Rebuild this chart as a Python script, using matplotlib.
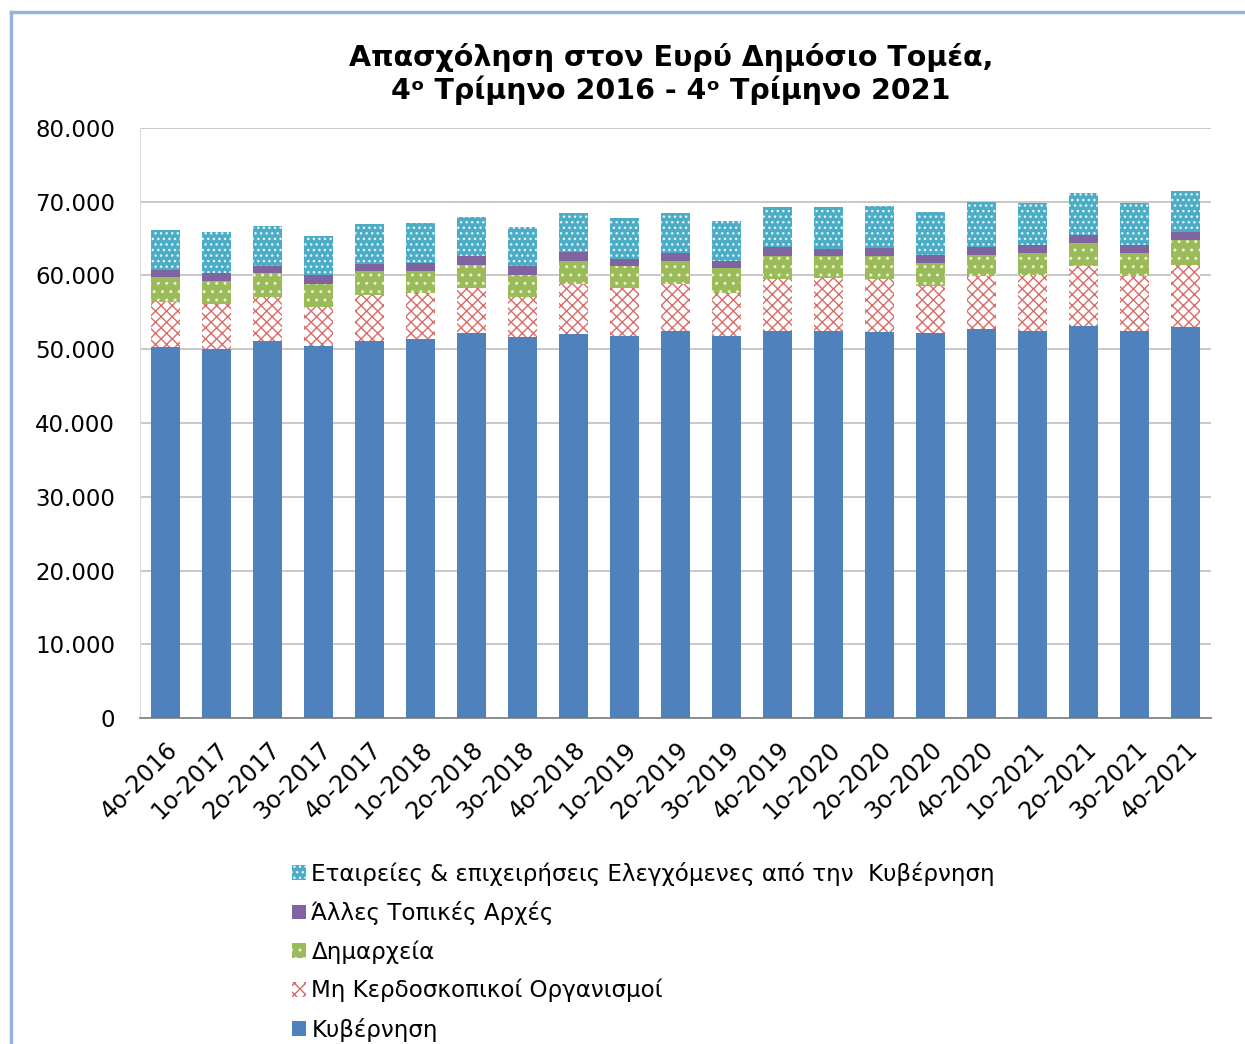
import matplotlib.pyplot as plt
import numpy as np
from matplotlib.lines import Line2D
from matplotlib.ticker import FuncFormatter

plt.rcParams['font.family'] = ['DejaVu Sans']
plt.rcParams['hatch.linewidth'] = 1.0

# quarters
quarters = ['4ο-2016', '1ο-2017', '2ο-2017', '3ο-2017', '4ο-2017',
            '1ο-2018', '2ο-2018', '3ο-2018', '4ο-2018',
            '1ο-2019', '2ο-2019', '3ο-2019', '4ο-2019',
            '1ο-2020', '2ο-2020', '3ο-2020', '4ο-2020',
            '1ο-2021', '2ο-2021', '3ο-2021', '4ο-2021']

# employment
kyvernisi = [50350, 50000, 51160, 50480, 51160, 51340, 52160, 51700, 52030,
             51840, 52470, 51840, 52470, 52470, 52300, 52160, 52700,
             52520, 53200, 52520, 53060]
mi_kerdoskopikoi = [6100, 6080, 5970, 5300, 6200, 6330, 6190, 5340, 6820,
                    6510, 6380, 5830, 7010, 7230, 7230, 6460, 7230,
                    7550, 8090, 7450, 8360]
dimarxeia = [3300, 3170, 3170, 3120, 3250, 2940, 3120, 3030, 3120,
             2940, 3120, 3300, 3160, 2940, 3110, 3030, 2890,
             2940, 3080, 3040, 3460]
alles_topikes = [1000, 1130, 990, 1140, 950, 1130, 1130, 1220, 1180,
                 950, 1130, 960, 1180, 950, 1130, 1130, 1000,
                 1130, 1120, 1130, 980]
etaireies = [5420, 5480, 5460, 5330, 5420, 5380, 5370, 5290, 5280,
             5520, 5330, 5500, 5420, 5650, 5700, 5790, 6100,
             5650, 5650, 5650, 5640]

labels = ['Κυβέρνηση', 'Μη Κερδοσκοπικοί Οργανισμοί', 'Δημαρχεία',
          'Άλλες Τοπικές Αρχές',
          'Εταιρείες & επιχειρήσεις Ελεγχόμενες από την  Κυβέρνηση']

fig = plt.figure(figsize=(12.45, 10.44), dpi=100)
ax = fig.add_axes([140 / 1245, 1 - 718 / 1044, 1071 / 1245, 590 / 1044])

x = np.arange(len(quarters))
w = 0.57
bottom = np.zeros(len(quarters))

series = [kyvernisi, mi_kerdoskopikoi, dimarxeia, alles_topikes, etaireies]
styles = [
    dict(color='#4F81BD', edgecolor='#4F81BD', hatch=None),
    dict(color='white', edgecolor='#D96B69', hatch='xxx'),
    dict(color='#9BBB59', edgecolor='#E8F0DA', hatch='..'),
    dict(color='#8064A2', edgecolor='#8064A2', hatch=None),
    dict(color='#4BACC6', edgecolor='#E4F3F7', hatch='...'),
]
handles = []
for vals, st, lab in zip(series, styles, labels):
    vals = np.array(vals, dtype=float)
    b = ax.bar(x, vals, w, bottom=bottom, color=st['color'],
               edgecolor=st['edgecolor'], hatch=st['hatch'], linewidth=0,
               label=lab, zorder=3)
    handles.append(b)
    bottom += vals

ax.set_xlim(-0.5, len(quarters) - 0.5)
ax.set_ylim(0, 80000)
ax.set_yticks(np.arange(0, 80001, 10000))
ax.yaxis.set_major_formatter(FuncFormatter(lambda v, p: f'{int(v):,}'.replace(',', '.')))
ax.grid(axis='y', color='#BFBFBF', linewidth=1.2, zorder=0)
ax.tick_params(axis='y', length=0, labelsize=16.5, pad=18)
ax.tick_params(axis='x', length=0, labelsize=17, pad=14)
ax.set_xticks(x)
ax.set_xticklabels(quarters, rotation=45, ha='right', rotation_mode='anchor')
for s in ['top', 'right']:
    ax.spines[s].set_visible(False)
ax.spines['left'].set_color('#D9D9D9')
ax.spines['bottom'].set_color('#868686')
ax.spines['bottom'].set_linewidth(1.3)

fig.text(0.539, 1 - 57 / 1044, 'Απασχόληση στον Ευρύ Δημόσιο Τομέα,',
         ha='center', va='center', fontsize=20.5, fontweight='bold')
fig.text(0.539, 1 - 90 / 1044, '4ᵒ Τρίμηνο 2016 - 4ᵒ Τρίμηνο 2021',
         ha='center', va='center', fontsize=20.5, fontweight='bold')

fig.legend(handles[::-1], labels[::-1], loc='upper left',
           bbox_to_anchor=(278 / 1245, 1 - 848 / 1044), frameon=False,
           fontsize=16.6, handlelength=0.6, handleheight=0.6,
           handletextpad=0.25, labelspacing=0.66, borderaxespad=0.2)

# outer frame
fig.add_artist(Line2D([11 / 1245, 11 / 1245], [0, 1 - 12 / 1044],
                      transform=fig.transFigure, color='#95B3D7', linewidth=2.5))
fig.add_artist(Line2D([11 / 1245, 1], [1 - 12 / 1044, 1 - 12 / 1044],
                      transform=fig.transFigure, color='#95B3D7', linewidth=2.5))

fig.savefig('out.png', dpi=100)
